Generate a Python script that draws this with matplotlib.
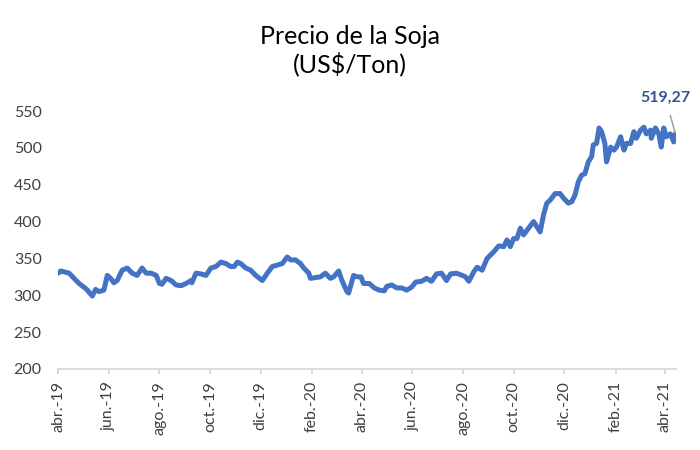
import matplotlib
matplotlib.use("Agg")
import matplotlib.pyplot as plt
import pandas as pd

plt.rcParams['font.family'] = ['Lato', 'DejaVu Sans']

# ---- data ----
dates = [
    "2019-04-01", "2019-04-04", "2019-04-14", "2019-04-20", "2019-04-26", "2019-05-02",
    "2019-05-06", "2019-05-12", "2019-05-16", "2019-05-20", "2019-05-26", "2019-05-30",
    "2019-06-03", "2019-06-07", "2019-06-11", "2019-06-17", "2019-06-23", "2019-06-29",
    "2019-07-05", "2019-07-11", "2019-07-16", "2019-07-22", "2019-07-28", "2019-08-01",
    "2019-08-04", "2019-08-09", "2019-08-15", "2019-08-21", "2019-08-27", "2019-09-02",
    "2019-09-08", "2019-09-09", "2019-09-14", "2019-09-20", "2019-09-26", "2019-10-02",
    "2019-10-08", "2019-10-14", "2019-10-20", "2019-10-26", "2019-10-30", "2019-11-03",
    "2019-11-07", "2019-11-13", "2019-11-19", "2019-11-25", "2019-12-03", "2019-12-09",
    "2019-12-15", "2019-12-21", "2019-12-27", "2020-01-02", "2020-01-06", "2020-01-12",
    "2020-01-18", "2020-01-22", "2020-01-28", "2020-01-30", "2020-02-05", "2020-02-11",
    "2020-02-17", "2020-02-23", "2020-02-27", "2020-03-04", "2020-03-08", "2020-03-14",
    "2020-03-16", "2020-03-22", "2020-03-26", "2020-03-31", "2020-04-03", "2020-04-10",
    "2020-04-16", "2020-04-22", "2020-04-28", "2020-05-01", "2020-05-07", "2020-05-13",
    "2020-05-19", "2020-05-25", "2020-05-31", "2020-06-05", "2020-06-12", "2020-06-18",
    "2020-06-24", "2020-06-30", "2020-07-06", "2020-07-12", "2020-07-17", "2020-07-24",
    "2020-07-31", "2020-08-04", "2020-08-08", "2020-08-14", "2020-08-18", "2020-08-24",
    "2020-08-30", "2020-09-07", "2020-09-13", "2020-09-19", "2020-09-23", "2020-09-27",
    "2020-10-01", "2020-10-05", "2020-10-09", "2020-10-13", "2020-10-19", "2020-10-25",
    "2020-10-29", "2020-11-02", "2020-11-06", "2020-11-10", "2020-11-14", "2020-11-20",
    "2020-11-26", "2020-11-30", "2020-12-06", "2020-12-10", "2020-12-14", "2020-12-18",
    "2020-12-22", "2020-12-26", "2020-12-30", "2021-01-03", "2021-01-05", "2021-01-09",
    "2021-01-12", "2021-01-15", "2021-01-19", "2021-01-21", "2021-01-26", "2021-01-30",
    "2021-02-02", "2021-02-07", "2021-02-11", "2021-02-14", "2021-02-19", "2021-02-23",
    "2021-02-26", "2021-03-03", "2021-03-07", "2021-03-10", "2021-03-15", "2021-03-16",
    "2021-03-21", "2021-03-25", "2021-03-28", "2021-03-31", "2021-04-03", "2021-04-08",
    "2021-04-12", "2021-04-14",
]
precio = [
    330, 333, 330, 323, 316, 311,
    307, 299, 308, 305, 307, 327,
    323, 317, 320, 334, 337, 330,
    327, 337, 330, 330, 327, 316,
    315, 323, 320, 314, 313, 316,
    320, 317, 330, 329, 327, 337,
    339, 345, 343, 339, 339, 345,
    343, 337, 334, 327, 320, 330,
    339, 341, 343, 352, 348, 348,
    343, 337, 330, 323, 324, 325,
    330, 323, 325, 333, 320, 305,
    303, 327, 325, 325, 316, 316,
    310, 307, 306, 312, 314, 310,
    310, 307, 311, 318, 319, 323,
    319, 329, 330, 320, 329, 330,
    327, 325, 319, 332, 338, 334,
    350, 359, 367, 366, 375, 366,
    377, 377, 391, 382, 391, 400,
    393, 386, 409, 425, 429, 438,
    438, 432, 425, 427, 436, 454,
    463, 465, 481, 488, 504, 506,
    527, 522, 506, 481, 501, 497,
    501, 515, 497, 506, 506, 522,
    513, 524, 528, 519, 524, 513,
    527, 519, 501, 527, 515, 519,
    508, 519.27,
]
tick_dates = ["2019-04-01", "2019-06-01", "2019-08-01", "2019-10-01", "2019-12-01",
              "2020-02-01", "2020-04-01", "2020-06-01", "2020-08-01", "2020-10-01",
              "2020-12-01", "2021-02-01", "2021-04-01"]
tick_labels = ["abr.-19", "jun.-19", "ago.-19", "oct.-19", "dic.-19", "feb.-20",
               "abr.-20", "jun.-20", "ago.-20", "oct.-20", "dic.-20", "feb.-21", "abr.-21"]
y_ticks = [200, 250, 300, 350, 400, 450, 500, 550]
title = "Precio de la Soja\n(US$/Ton)"

# ---- plot ----
x = pd.to_datetime(dates)
fig = plt.figure(figsize=(7, 4.5), dpi=100)
ax = fig.add_axes([0.0833, 0.18, 0.8827, 0.5733])

line_color = "#4472C4"
ax.plot(x, precio, color=line_color, lw=3.6, solid_joinstyle="round", solid_capstyle="round")

ax.set_ylim(200, 550)
ax.set_xlim(pd.Timestamp("2019-04-01"), pd.Timestamp("2021-04-15"))
ax.set_yticks(y_ticks)
ax.set_xticks(pd.to_datetime(tick_dates))
ax.set_xticklabels(tick_labels, rotation=90)

for s in ["top", "right", "left"]:
    ax.spines[s].set_visible(False)
ax.spines["bottom"].set_color("#d9d9d9")
ax.spines["bottom"].set_linewidth(1.3)
ax.tick_params(axis="y", length=0, labelsize=11.5, labelcolor="#404040", pad=12)
ax.tick_params(axis="x", length=3.5, width=1.3, color="#d9d9d9", labelsize=11.5,
               labelcolor="#404040", pad=5)

last_val = precio[-1]
ax.annotate(f"{last_val:.2f}".replace(".", ","), xy=(x[-1], last_val),
            xytext=(-10, 36), textcoords="offset pixels", ha="center", va="center",
            fontsize=11.5, fontweight="bold", color="#2F5597",
            arrowprops=dict(arrowstyle="-", color="#a6a6a6", lw=1.2, shrinkA=6, shrinkB=1))

fig.text(0.4993, 1 - 51 / 450, title, ha="center", va="center", fontsize=18,
         color="#000000", linespacing=1.17)

fig.savefig("out.png", dpi=100)
